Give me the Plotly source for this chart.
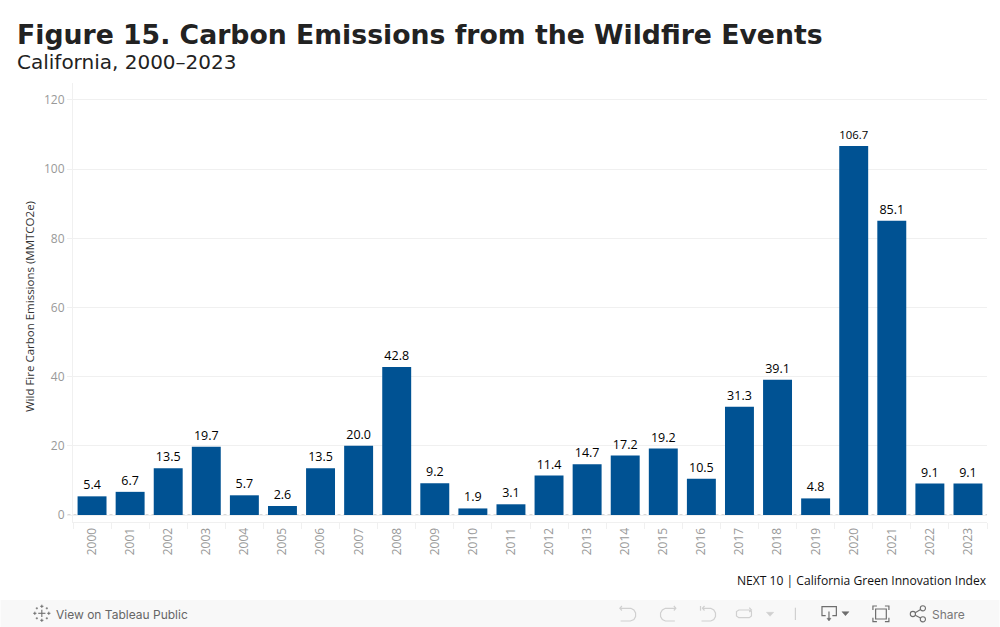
import plotly.graph_objects as go

years = [str(y) for y in range(2000, 2024)]
emissions = [5.4, 6.7, 13.5, 19.7, 5.7, 2.6, 13.5, 20.0, 42.8, 9.2, 1.9, 3.1,
             11.4, 14.7, 17.2, 19.2, 10.5, 31.3, 39.1, 4.8, 106.7, 85.1, 9.1, 9.1]
labels = [f"{v:.1f}" for v in emissions]
y_ticks = [0, 20, 40, 60, 80, 100, 120]

W, H = 1000, 627
L, R, T, B = 72.5, 12.5, 83, 105

fig = go.Figure(go.Bar(
    x=years, y=emissions, text=labels, textposition="outside", cliponaxis=False,
    textfont=dict(family="Open Sans", size=12.5, color="#000000"),
    marker=dict(color="#005293", line=dict(width=0)), hoverinfo="skip",
))

def px(x): return (x - L) / (W - L - R)
def py(y): return 1 - (y - T) / (H - T - B)

def note(x, y, text, family, size, color, bold=False, xanchor="left", yanchor="middle", angle=0):
    fig.add_annotation(xref="paper", yref="paper", x=px(x), y=py(y), text=f"<b>{text}</b>" if bold else text,
                       showarrow=False, xanchor=xanchor, yanchor=yanchor, textangle=angle,
                       font=dict(family=family, size=size, color=color), borderpad=0, borderwidth=0)

note(16, 34.5, "Figure 15. Carbon Emissions from the Wildfire Events", "DejaVu Sans", 26.7, "#222222", bold=True)
note(16, 61.5, "California, 2000–2023", "DejaVu Sans", 20, "#222222")
note(28.5, 307, "Wild Fire Carbon Emissions (MMTCO2e)", "Open Sans", 11.5, "#333333", xanchor="center", angle=-90)
note(987.5, 580, "NEXT 10 | California Green Innovation Index", "Open Sans", 12.1, "#111111", xanchor="right")
note(55, 614, "View on Tableau Public", "Inter", 12, "#666666")
note(932.5, 614, "Share", "Inter", 12, "#777777")

shapes = [
    # toolbar band
    dict(type="rect", xref="paper", yref="paper", x0=px(0), x1=px(W), y0=py(H), y1=py(600), fillcolor="#f8f8f8", line_width=0, layer="below"),
    # dotted zero line
    dict(type="line", xref="paper", yref="y", x0=px(67), x1=px(W - R), y0=0, y1=0,
         line=dict(color="#b0b0b0", width=1, dash="dot"), layer="below"),
]

def path(d, color, width=1.2, fill=None):
    shapes.append(dict(type="path", xref="paper", yref="paper", path=d,
                       line=dict(color=color, width=width), fillcolor=fill or "rgba(0,0,0,0)"))

def P(*pts, close=False):
    s = "M " + " L ".join(f"{px(x):.5f},{py(y):.5f}" for x, y in pts)
    return s + (" Z" if close else "")

light = "#d0d0d0"; dark = "#6e6e6e"
# Tableau logo
for cx, cy, r, w in [(41.3, 613.3, 3.6, 1.1), (34.3, 613.3, 1.6, 1.0), (48.3, 613.3, 1.6, 1.0),
                     (41.3, 606.3, 1.6, 1.0), (41.3, 620.3, 1.6, 1.0),
                     (36.3, 608.3, 1.1, 0.8), (46.3, 608.3, 1.1, 0.8), (36.3, 618.3, 1.1, 0.8), (46.3, 618.3, 1.1, 0.8)]:
    path(P((cx - r, cy), (cx + r, cy)), dark, w)
    path(P((cx, cy - r), (cx, cy + r)), dark, w)
# undo
path(P((620, 608.3), (631, 608.3), (634, 610), (635.7, 613), (635.7, 616.5), (634, 619.5), (630.5, 621), (620.7, 621)), light)
path(P((622, 606), (620, 608.3), (622, 610.5)), light)
# redo
path(P((676, 608.3), (665.5, 608.3), (662.5, 610), (660.7, 613), (660.7, 616.5), (662.5, 619.5), (665.5, 621), (675, 621)), light)
path(P((674, 606), (676, 608.3), (674, 610.5)), light)
# revert
path(P((702.7, 608.3), (711, 608.3), (714, 610), (715.7, 613), (715.7, 616.5), (714, 619.5), (711, 621), (701.7, 621)), light)
path(P((704.7, 606), (702.7, 608.3), (704.7, 610.5)), light)
path(P((700.7, 606), (700.7, 610.7)), light)
# refresh
path(P((739, 610), (749.5, 610), (751.7, 611.5), (751.7, 616), (749.5, 617.7), (739, 617.7), (736.7, 616), (736.7, 611.5), close=True), light)
path(P((749.5, 607.7), (751.7, 610), (749.5, 612)), light)
path(P((766.7, 612.3), (774, 612.3), (770.3, 616.3), close=True), light, 0.5, light)
path(P((795.7, 607.7), (795.7, 620)), light)
# download
path(P((826, 615.7), (822.3, 615.7), (822.3, 606.7), (836.7, 606.7), (836.7, 615.7), (832.7, 615.7)), dark)
path(P((829.3, 611.5), (829.3, 619)), dark)
path(P((827.3, 618.3), (831.3, 618.3), (829.3, 621), close=True), dark, 0.5, dark)
path(P((842.3, 611.7), (849.3, 611.7), (845.8, 615.7), close=True), dark, 0.5, dark)
# full screen
path(P((873.3, 610), (873.3, 606), (877.3, 606)), dark)
path(P((885.3, 606), (889.3, 606), (889.3, 610)), dark)
path(P((889.3, 617.7), (889.3, 621.7), (885.3, 621.7)), dark)
path(P((877.3, 621.7), (873.3, 621.7), (873.3, 617.7)), dark)
path(P((876, 609), (886.7, 609), (886.7, 619), (876, 619), close=True), dark)
# share
for cx, cy in [(913.3, 614), (923.3, 608.3), (923.3, 619.3)]:
    shapes.append(dict(type="circle", xref="paper", yref="paper", x0=px(cx - 2.6), x1=px(cx + 2.6),
                       y0=py(cy + 2.6), y1=py(cy - 2.6), line=dict(color=dark, width=1.1)))
path(P((915.6, 612.7), (921, 609.6)), dark, 1.1)
path(P((915.6, 615.3), (921, 618)), dark, 1.1)

fig.update_layout(
    width=W, height=H, margin=dict(l=L, r=R, t=T, b=B), paper_bgcolor="#ffffff", plot_bgcolor="#ffffff",
    bargap=0.24, showlegend=False, shapes=shapes,
    xaxis=dict(type="category", tickangle=-90, tickson="boundaries", ticks="outside", ticklen=6, tickcolor="#f0f0f0",
               showline=True, linecolor="#f0f0f0", linewidth=1, showgrid=False,
               tickfont=dict(family="Open Sans", size=12, color="#999999")),
    yaxis=dict(range=[-2.02, 124.9], tickvals=y_ticks, ticks="outside", ticklen=5, tickcolor="#f0f0f0",
               showline=True, linecolor="#f0f0f0", linewidth=1, gridcolor="#f0f0f0", gridwidth=1, zeroline=False,
               tickfont=dict(family="Open Sans", size=12, color="#999999")),
)

fig.write_html("out.html", config=dict(displayModeBar=False),
               post_script="document.body.style.margin='0';document.body.style.overflow='hidden';")
